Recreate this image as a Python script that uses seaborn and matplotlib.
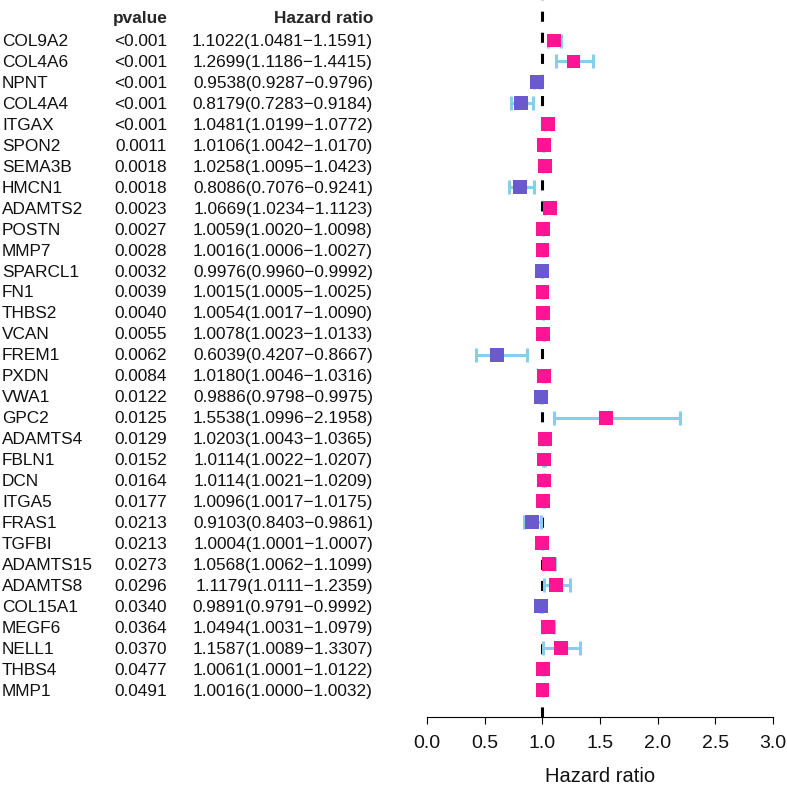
import numpy as np
import pandas as pd
import matplotlib
matplotlib.use("Agg")
import matplotlib.pyplot as plt
import matplotlib.transforms as mtransforms
import seaborn as sns

# ── Data ──────────────────────────────────────
genes = ["COL9A2", "COL4A6", "NPNT", "COL4A4", "ITGAX", "SPON2", "SEMA3B", "HMCN1",
         "ADAMTS2", "POSTN", "MMP7", "SPARCL1", "FN1", "THBS2", "VCAN", "FREM1",
         "PXDN", "VWA1", "GPC2", "ADAMTS4", "FBLN1", "DCN", "ITGA5", "FRAS1",
         "TGFBI", "ADAMTS15", "ADAMTS8", "COL15A1", "MEGF6", "NELL1", "THBS4", "MMP1"]
pvalues = ["<0.001", "<0.001", "<0.001", "<0.001", "<0.001", "0.0011", "0.0018", "0.0018",
           "0.0023", "0.0027", "0.0028", "0.0032", "0.0039", "0.0040", "0.0055", "0.0062",
           "0.0084", "0.0122", "0.0125", "0.0129", "0.0152", "0.0164", "0.0177", "0.0213",
           "0.0213", "0.0273", "0.0296", "0.0340", "0.0364", "0.0370", "0.0477", "0.0491"]
hr = [1.1022, 1.2699, 0.9538, 0.8179, 1.0481, 1.0106, 1.0258, 0.8086,
      1.0669, 1.0059, 1.0016, 0.9976, 1.0015, 1.0054, 1.0078, 0.6039,
      1.0180, 0.9886, 1.5538, 1.0203, 1.0114, 1.0114, 1.0096, 0.9103,
      1.0004, 1.0568, 1.1179, 0.9891, 1.0494, 1.1587, 1.0061, 1.0016]
hr_low = [1.0481, 1.1186, 0.9287, 0.7283, 1.0199, 1.0042, 1.0095, 0.7076,
          1.0234, 1.0020, 1.0006, 0.9960, 1.0005, 1.0017, 1.0023, 0.4207,
          1.0046, 0.9798, 1.0996, 1.0043, 1.0022, 1.0021, 1.0017, 0.8403,
          1.0001, 1.0062, 1.0111, 0.9791, 1.0031, 1.0089, 1.0001, 1.0000]
hr_high = [1.1591, 1.4415, 0.9796, 0.9184, 1.0772, 1.0170, 1.0423, 0.9241,
           1.1123, 1.0098, 1.0027, 0.9992, 1.0025, 1.0090, 1.0133, 0.8667,
           1.0316, 0.9975, 2.1958, 1.0365, 1.0207, 1.0209, 1.0175, 0.9861,
           1.0007, 1.1099, 1.2359, 0.9992, 1.0979, 1.3307, 1.0122, 1.0032]
x_ticks = [0.0, 0.5, 1.0, 1.5, 2.0, 2.5, 3.0]

# ── Style ──────────────────────────────────────
sns.set_style("white")
plt.rcParams["font.family"] = ["Liberation Sans", "DejaVu Sans"]

n = len(genes)
df = pd.DataFrame({
    "gene": genes,
    "pvalue": pvalues,
    "hr": hr,
    "low": hr_low,
    "high": hr_high,
})
df["y"] = n - np.arange(n)
df["risk"] = np.where(df["hr"] > 1, "high", "low")
df["label"] = [f"{h:.4f}({l:.4f}\u2212{u:.4f})" for h, l, u in zip(df["hr"], df["low"], df["high"])]

W = H = 787
fig = plt.figure(figsize=(7.87, 7.87), dpi=100)
ax = fig.add_axes([427 / W, 1 - 717 / H, 346 / W, 717 / H])

row_px = 20.95
ax.set_xlim(0, 3)
ax.set_ylim(1 - (717 - 690) / row_px, n + 40.5 / row_px)

# reference line
ax.axvline(1, color="black", lw=2.2, ls=(0, (3.3, 3.6)), zorder=1)

# confidence intervals
ax.errorbar(df["hr"], df["y"], xerr=[df["hr"] - df["low"], df["high"] - df["hr"]],
            fmt="none", ecolor="#87CEEB", elinewidth=2.2, capsize=4.7, capthick=2.2, zorder=2)

# point estimates
sns.scatterplot(data=df, x="hr", y="y", hue="risk", marker="s", s=100, linewidth=0,
                palette={"high": "#FF1493", "low": "#6A5ACD"}, legend=False, ax=ax, zorder=3)

# axis styling
for side in ["left", "top", "right"]:
    ax.spines[side].set_visible(False)
ax.spines["bottom"].set_color("black")
ax.spines["bottom"].set_linewidth(0.8)
ax.set_yticks([])
ax.set_ylabel("")
ax.set_xticks(x_ticks)
ax.set_xticklabels([f"{t:.1f}" for t in x_ticks])
ax.tick_params(axis="x", direction="out", length=5, width=0.8, color="black",
               labelsize=14, pad=8, labelcolor="#111111", bottom=True)
ax.set_xlabel("Hazard ratio", fontsize=14.5, labelpad=11, color="#111111")

# table text
trans = mtransforms.blended_transform_factory(fig.transFigure, ax.transData)
header_y = n + 22.5 / row_px
ax.text(168 / W, header_y, "pvalue", transform=trans, ha="right", va="center",
        fontsize=12.4, fontweight="bold")
ax.text(373 / W, header_y, "Hazard ratio", transform=trans, ha="right", va="center",
        fontsize=12.4, fontweight="bold")
for _, row in df.iterrows():
    ax.text(2 / W, row["y"] - 0.05, row["gene"], transform=trans, ha="left", va="center",
            fontsize=12.4, color="#111111")
    ax.text(167 / W, row["y"] - 0.05, row["pvalue"], transform=trans, ha="right", va="center",
            fontsize=12.4, color="#111111")
    ax.text(373 / W, row["y"] - 0.05, row["label"], transform=trans, ha="right", va="center",
            fontsize=12.4, color="#111111")

fig.savefig("out.png", dpi=100)
plt.close(fig)
